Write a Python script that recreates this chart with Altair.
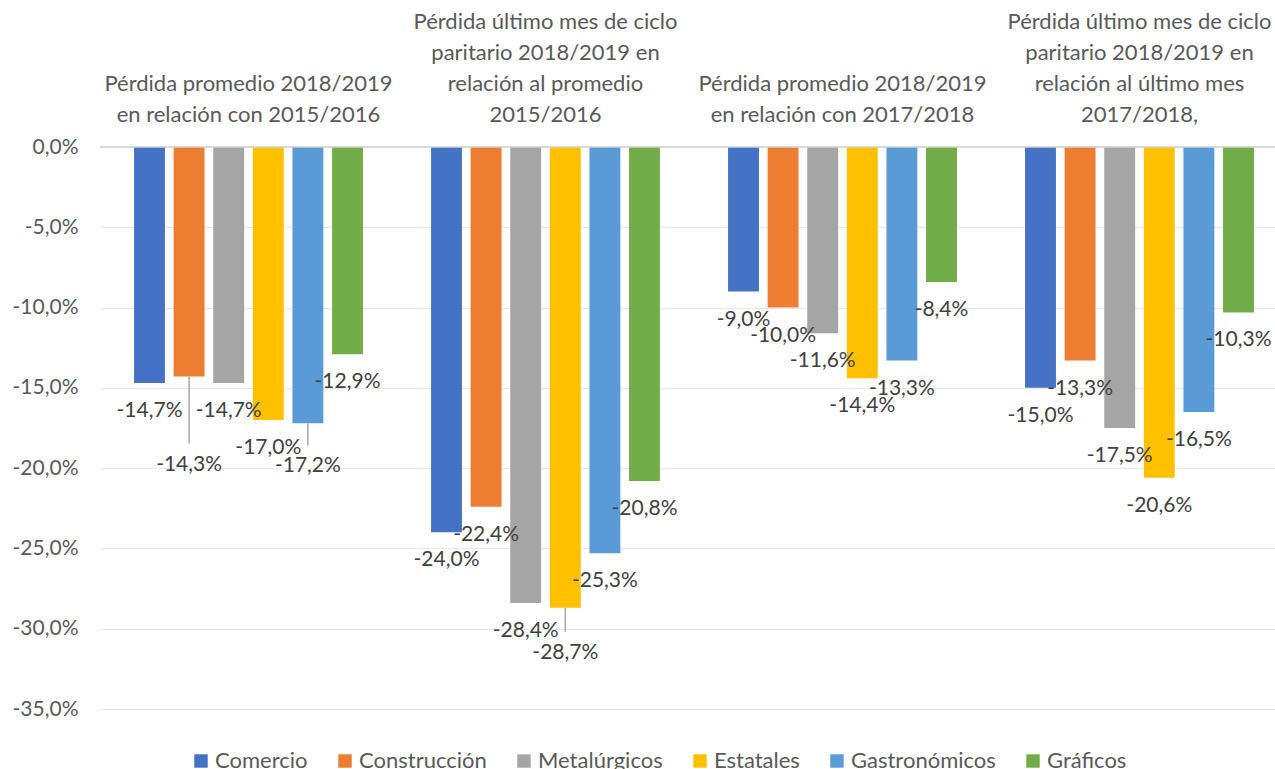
import altair as alt
import pandas as pd

# ---- data ----
groups = [
    "Pérdida promedio 2018/2019\nen relación con 2015/2016",
    "Pérdida último mes de ciclo\nparitario 2018/2019 en\nrelación al promedio\n2015/2016",
    "Pérdida promedio 2018/2019\nen relación con 2017/2018",
    "Pérdida último mes de ciclo\nparitario 2018/2019 en\nrelación al último mes\n2017/2018,",
]
series = ["Comercio", "Construcción", "Metalúrgicos", "Estatales", "Gastronómicos", "Gráficos"]
comercio = [-14.7, -24.0, -9.0, -15.0]
construccion = [-14.3, -22.4, -10.0, -13.3]
metalurgicos = [-14.7, -28.4, -11.6, -17.5]
estatales = [-17.0, -28.7, -14.4, -20.6]
gastronomicos = [-17.2, -25.3, -13.3, -16.5]
graficos = [-12.9, -20.8, -8.4, -10.3]
y_ticks = [0, -5, -10, -15, -20, -25, -30, -35]

# ---- styling / layout ----
colors = ["#4472C4", "#ED7D31", "#A5A5A5", "#FFC000", "#5B9BD5", "#70AD47"]
FONT = "Lato"
FS = 21
DEFAULT_DROP = 28
# label placement for labels that Excel pushed further down (with leader lines)
special_drop = {(0, 1): 88, (0, 4): 43, (1, 3): 45}
TITLE_LINE_H = 31

series_vals = [comercio, construccion, metalurgicos, estatales, gastronomicos, graficos]
rows = []
for si, s in enumerate(series):
    for gi, g in enumerate(groups):
        v = series_vals[si][gi]
        rows.append({
            "group": g,
            "serie": s,
            "value": v,
            "label": f"{v:.1f}".replace(".", ",") + "%",
            "label_drop": special_drop.get((gi, si), DEFAULT_DROP),
        })
df = pd.DataFrame(rows)

title_rows = []
for g in groups:
    lines = g.split("\n")
    for k, line in enumerate(reversed(lines)):
        title_rows.append({"group": g, "line": line, "k": k})
titles_df = pd.DataFrame(title_rows)

x_enc = alt.X("group:N", sort=groups, axis=None,
              scale=alt.Scale(range=[0, 1188], paddingInner=0.2, paddingOuter=0.1))
xo_enc = alt.XOffset("serie:N", sort=series,
                     scale=alt.Scale(paddingInner=0.22, paddingOuter=0.11))
y_scale = alt.Scale(domain=[-35, 0], nice=False)
y_plain = alt.Y("value:Q", scale=y_scale, title=None)

base = alt.Chart(df)

bars = base.mark_bar().encode(
    x=x_enc,
    xOffset=xo_enc,
    y=alt.Y("value:Q", scale=y_scale, title=None,
            axis=alt.Axis(values=y_ticks, grid=True, gridColor="#E8E8E8", gridWidth=1,
                          domain=False, ticks=False, labelFont=FONT, labelFontSize=FS,
                          labelColor="#595959", labelPadding=22,
                          labelExpr="replace(replace(format(datum.value, '.1f'), '.', ','), '\u2212', '-') + '%'")),
    y2=alt.datum(0),
    color=alt.Color("serie:N", sort=series, scale=alt.Scale(domain=series, range=colors),
                    legend=alt.Legend(title=None, orient="none", direction="horizontal",
                                      legendX=90, legendY=603, symbolType="square",
                                      symbolSize=180, symbolStrokeWidth=0,
                                      labelFont=FONT, labelFontSize=22, labelColor="#595959",
                                      columnPadding=26, labelOffset=3, padding=0)),
)

zero = alt.Chart(pd.DataFrame({"value": [0]})).mark_rule(color="#D0D0D0", strokeWidth=1.5).encode(
    y=y_plain,
    x=alt.value(0), x2=alt.value(1175),
)

layers = [bars, zero]

drops = sorted(set(df["label_drop"]))
for d in drops:
    layers.append(
        base.transform_filter(alt.datum.label_drop == d)
        .mark_text(dy=d, baseline="middle", align="center", font=FONT, fontSize=FS, color="#404040")
        .encode(x=x_enc, xOffset=xo_enc, y=y_plain, text="label:N")
    )
    if d != DEFAULT_DROP:
        layers.append(
            base.transform_filter(alt.datum.label_drop == d)
            .mark_rule(color="#A6A6A6", strokeWidth=1.5, y2Offset=d - 21)
            .encode(x=x_enc, xOffset=xo_enc, y=y_plain, y2="value:Q")
        )

for k in sorted(set(titles_df["k"])):
    layers.append(
        alt.Chart(titles_df).transform_filter(alt.datum.k == k)
        .mark_text(baseline="middle", align="center", font=FONT, fontSize=22, color="#595959",
                   dy=-TITLE_LINE_H * k)
        .encode(x=x_enc, y=alt.value(-32), text="line:N")
    )

chart = alt.layer(*layers).properties(
    width=1175, height=562,
    background="white",
    autosize=alt.AutoSizeParams(type="none"),
    padding={"left": 100, "top": 147, "right": 0, "bottom": 60},
).configure_view(stroke=None)

chart.save("out.html", embed_options={"renderer": "svg", "actions": False})
